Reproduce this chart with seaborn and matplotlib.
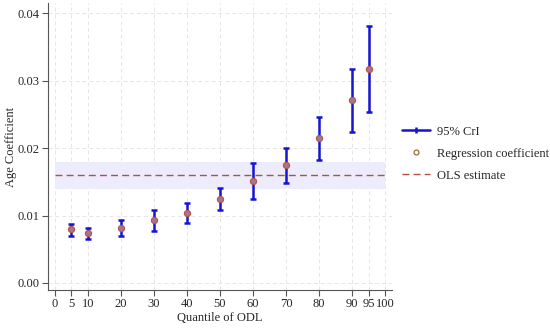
import numpy as np
import pandas as pd
import seaborn as sns
import matplotlib
matplotlib.use("Agg")
import matplotlib.pyplot as plt
from matplotlib.lines import Line2D

# quantiles of ODL and the age coefficient estimates
quantiles = [5, 10, 20, 30, 40, 50, 60, 70, 80, 90, 95]
coef = [0.0080, 0.0074, 0.0082, 0.0093, 0.0104, 0.0125, 0.0151, 0.0175, 0.0215, 0.0271, 0.0317]
lower = [0.0069, 0.0065, 0.0070, 0.0077, 0.0089, 0.0108, 0.0125, 0.0149, 0.0182, 0.0224, 0.0253]
upper = [0.0088, 0.0081, 0.0094, 0.0109, 0.0118, 0.0141, 0.0178, 0.0201, 0.0247, 0.0318, 0.0382]

ols_est = 0.0160
ols_lo = 0.0140
ols_hi = 0.0180

xticks = [0, 5, 10, 20, 30, 40, 50, 60, 70, 80, 90, 95, 100]
yticks = [0.00, 0.01, 0.02, 0.03, 0.04]

df = pd.DataFrame({"q": quantiles, "coef": coef, "lo": lower, "hi": upper})

sns.set_theme(style="white")
plt.rcParams["font.family"] = ["Liberation Serif", "DejaVu Serif"]
plt.rcParams["font.size"] = 9

fig = plt.figure(figsize=(5.5, 3.31), dpi=100)
ax = fig.add_axes([0.087, 0.124, 0.626, 0.866])

blue = "#1414d2"
red = "#b5503c"

# OLS band and line
ax.fill_between([0, 100], ols_lo, ols_hi, color="#ececfc", zorder=1, lw=0)
ax.plot([0, 100], [ols_est, ols_est], ls=(0, (5, 3)), color=red, lw=1.0, zorder=2)

# credible intervals
yerr = np.array([df["coef"] - df["lo"], df["hi"] - df["coef"]])
ax.errorbar(df["q"], df["coef"], yerr=yerr, fmt="none", ecolor=blue,
            elinewidth=1.8, capsize=2.5, capthick=1.8, zorder=3)

sns.scatterplot(data=df, x="q", y="coef", ax=ax, s=20, color="#a87590",
                edgecolor="#b5534a", linewidth=0.8, zorder=4, legend=False)

ax.set_xlim(-2.1, 102.1)
ax.set_ylim(-0.00104, 0.0415)
ax.set_xticks(xticks)
ax.set_yticks(yticks)
ax.set_yticklabels([f"{v:.2f}" for v in yticks])
ax.grid(True, color="#e6e6e6", ls=(0, (4, 3)), lw=0.7)
ax.set_axisbelow(True)

for s in ["top", "right"]:
    ax.spines[s].set_visible(False)
for s in ["left", "bottom"]:
    ax.spines[s].set_color("#555555")
    ax.spines[s].set_linewidth(0.8)
ax.tick_params(axis="both", direction="out", length=4, width=0.8, color="#555555",
               labelsize=9, pad=2, bottom=True, left=True)

ax.set_xlabel("Quantile of ODL", fontsize=9, labelpad=1)
ax.set_ylabel("Age Coefficient", fontsize=9)
ax.yaxis.set_label_coords(-0.09, 0.5)

handles = [
    Line2D([0], [0], color=blue, lw=1.8, marker="|", markersize=5, markeredgewidth=1.8),
    Line2D([0], [0], ls="none", marker="o", markersize=3.5, markerfacecolor="none",
           markeredgecolor="#9a6a30", markeredgewidth=0.9),
    Line2D([0], [0], color=red, lw=1.0, ls=(0, (5, 3))),
]
labels = ["95% CrI", "Regression coefficient", "OLS estimate"]
fig.legend(handles, labels, loc="upper left", bbox_to_anchor=(0.731, 0.62),
           frameon=False, fontsize=9, handlelength=2.24, handletextpad=0.56,
           labelspacing=0.8, borderpad=0, borderaxespad=0)

fig.savefig("out.png", dpi=100)
